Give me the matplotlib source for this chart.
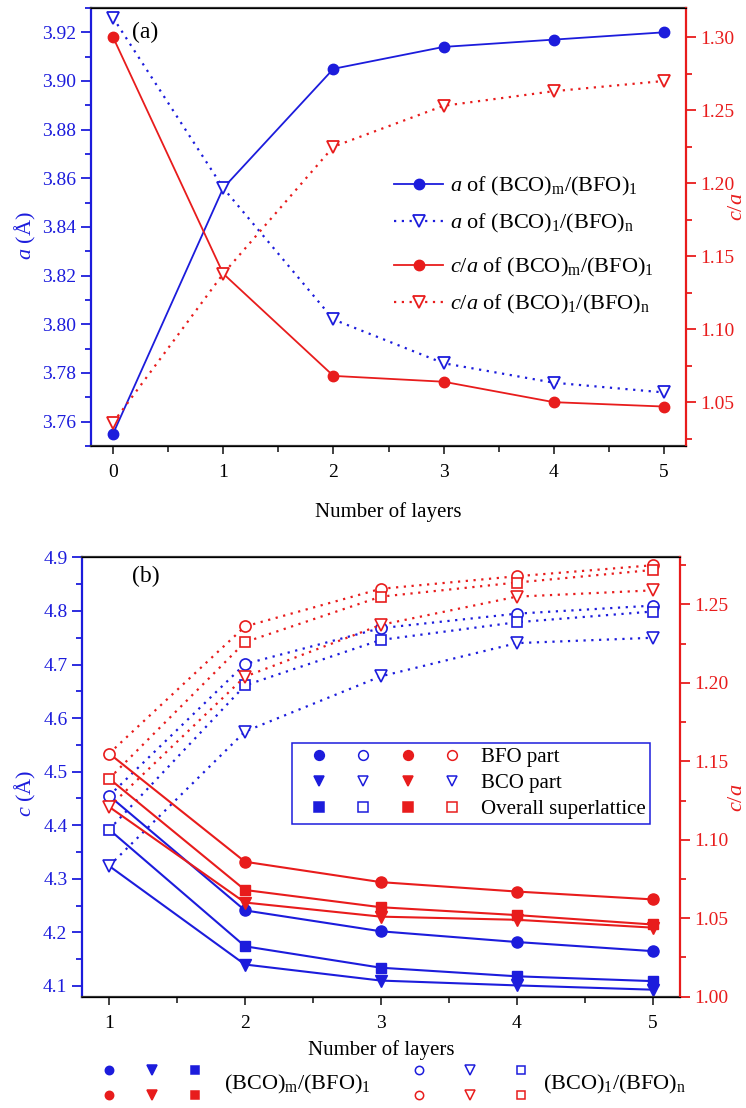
import numpy as np
import matplotlib
matplotlib.use("Agg")
import matplotlib.pyplot as plt
from matplotlib.lines import Line2D
from matplotlib.legend_handler import HandlerTuple
from matplotlib.ticker import MultipleLocator, FormatStrFormatter

plt.rcParams['font.family'] = ['Liberation Serif', 'DejaVu Serif']
plt.rcParams['mathtext.fontset'] = 'custom'
plt.rcParams['mathtext.rm'] = 'Liberation Serif'
plt.rcParams['mathtext.it'] = 'Liberation Serif:italic'
plt.rcParams['mathtext.bf'] = 'Liberation Serif:bold'

BLUE = '#1c1cdc'
RED = '#e81c1c'
DOTS = (0, (1, 2.5))

# ---- panel (a) data ----
layers_a = [0, 1, 2, 3, 4, 5]
a_m = [3.755, 3.856, 3.905, 3.914, 3.917, 3.920]
a_n = [3.926, 3.856, 3.802, 3.784, 3.776, 3.772]
ca_m = [1.300, 1.138, 1.068, 1.064, 1.050, 1.047]
ca_n = [1.036, 1.138, 1.225, 1.253, 1.263, 1.270]

# ---- panel (b) data ----
layers_b = [1, 2, 3, 4, 5]
c_bfo_m = [4.455, 4.241, 4.202, 4.182, 4.165]
c_bco_m = [4.324, 4.140, 4.110, 4.101, 4.093]
c_all_m = [4.392, 4.174, 4.134, 4.118, 4.109]
c_bfo_n = [4.455, 4.701, 4.768, 4.795, 4.810]
c_bco_n = [4.324, 4.575, 4.678, 4.740, 4.750]
c_all_n = [4.392, 4.661, 4.746, 4.779, 4.799]
ca_bfo_m = [1.155, 1.086, 1.073, 1.067, 1.062]
ca_bco_m = [1.121, 1.060, 1.051, 1.049, 1.044]
ca_all_m = [1.139, 1.068, 1.057, 1.052, 1.046]
ca_bfo_n = [1.155, 1.236, 1.260, 1.268, 1.275]
ca_bco_n = [1.121, 1.204, 1.237, 1.255, 1.259]
ca_all_n = [1.139, 1.226, 1.255, 1.264, 1.272]

lab_m = r'(BCO)$_\mathrm{m}$/(BFO)$_\mathrm{1}$'
lab_n = r'(BCO)$_\mathrm{1}$/(BFO)$_\mathrm{n}$'

W, H = 746, 1108


def px(x, y):
    # pixel position (from top-left) -> figure fraction
    return x / W, 1 - y / H


def style_axes(ax, ax2):
    ax.spines['left'].set_color(BLUE)
    ax.spines['left'].set_linewidth(1.6)
    ax.spines['right'].set_visible(False)
    ax2.spines['right'].set_color(RED)
    ax2.spines['right'].set_linewidth(1.6)
    ax2.spines['left'].set_visible(False)
    for s in ['top', 'bottom']:
        ax.spines[s].set_color('#333333')
        ax.spines[s].set_linewidth(1.6)
    ax.tick_params(axis='y', which='both', colors=BLUE, labelsize=14, direction='out')
    ax.tick_params(axis='y', which='major', length=7, width=1.3)
    ax.tick_params(axis='y', which='minor', length=4, width=1.3)
    ax2.tick_params(axis='y', which='both', colors=RED, labelsize=14, direction='out')
    ax2.tick_params(axis='y', which='major', length=7, width=1.3)
    ax2.tick_params(axis='y', which='minor', length=4, width=1.3)
    ax.tick_params(axis='x', which='both', colors='#333333', labelcolor='black',
                   labelsize=14, direction='out', top=False)
    ax.tick_params(axis='x', which='major', length=6, width=1.3, pad=7)
    ax.tick_params(axis='x', which='minor', length=4, width=1.3)
    ax.xaxis.set_minor_locator(MultipleLocator(0.5))


fig = plt.figure(figsize=(7.46, 11.08), dpi=100)

# ================= panel (a) =================
ax = fig.add_axes([0.122, 0.5975, 0.7976, 0.3953])
ax2 = ax.twinx()
ax2.set_position([0.122, 0.5975, 0.7976, 0.3953])

l1, = ax.plot(layers_a, a_m, '-', color=BLUE, lw=1.3, marker='o', ms=7.5,
              markevery=[0, 2, 3, 4, 5])
l2, = ax.plot(layers_a, a_n, linestyle=DOTS, color=BLUE, lw=1.6, marker='v', ms=9,
              mfc='white', mec=BLUE, mew=1.3)
l3, = ax2.plot(layers_a, ca_m, '-', color=RED, lw=1.3, marker='o', ms=7.5,
               markevery=[0, 2, 3, 4, 5])
l4, = ax2.plot(layers_a, ca_n, linestyle=DOTS, color=RED, lw=1.6, marker='v', ms=9,
               mfc='white', mec=RED, mew=1.3)

ax.set_xlim(-0.2, 5.2)
ax.set_ylim(3.75, 3.93)
ax2.set_ylim(1.02, 1.32)
ax.set_xticks(layers_a)
ax.yaxis.set_major_locator(MultipleLocator(0.02))
ax.yaxis.set_minor_locator(MultipleLocator(0.01))
ax.yaxis.set_major_formatter(FormatStrFormatter('%.2f'))
ax2.yaxis.set_major_locator(MultipleLocator(0.05))
ax2.yaxis.set_minor_locator(MultipleLocator(0.025))
ax2.yaxis.set_major_formatter(FormatStrFormatter('%.2f'))
style_axes(ax, ax2)

ax.set_xlabel('Number of layers', fontsize=15, labelpad=15)
fig.text(*px(25, 236), r'$a$ (Å)', fontsize=16, color=BLUE, rotation=90,
         ha='center', va='center')
fig.text(*px(737, 207), r'$c/a$', fontsize=16, color=RED, rotation=90,
         ha='center', va='center')
ax.text(0.069, 0.943, '(a)', transform=ax.transAxes, fontsize=17,
        ha='left', va='center')

leg_kw = dict(loc='center left', frameon=False, fontsize=16, handlelength=2.2,
              handletextpad=0.3, labelspacing=0.62, borderaxespad=0, borderpad=0)
leg_a1 = ax2.legend([l1, l2], [r'$a$ of ' + lab_m, r'$a$ of ' + lab_n],
                    bbox_to_anchor=(0.51, (446 - 205) / 438), **leg_kw)
ax2.add_artist(leg_a1)
leg_a2 = ax2.legend([l3, l4], [r'$c/a$ of ' + lab_m, r'$c/a$ of ' + lab_n],
                    bbox_to_anchor=(0.51, (446 - 286) / 438), **leg_kw)

# ================= panel (b) =================
bx = fig.add_axes([0.1099, 0.1005, 0.8012, 0.3964])
bx2 = bx.twinx()
bx2.set_position([0.1099, 0.1005, 0.8012, 0.3964])

mk = {'bfo': 'o', 'bco': 'v', 'all': 's'}
msz = {'bfo': 8, 'bco': 9, 'all': 7}
series_c = [('bfo', c_bfo_m, c_bfo_n), ('bco', c_bco_m, c_bco_n),
            ('all', c_all_m, c_all_n)]
series_ca = [('bfo', ca_bfo_m, ca_bfo_n), ('bco', ca_bco_m, ca_bco_n),
             ('all', ca_all_m, ca_all_n)]

for key, ym, yn in series_c:
    bx.plot(layers_b, ym, '-', color=BLUE, lw=1.5, marker=mk[key], ms=msz[key],
            markevery=slice(1, None))
    bx.plot(layers_b, yn, linestyle=DOTS, color=BLUE, lw=1.6, marker=mk[key],
            ms=msz[key], mfc='white', mec=BLUE, mew=1.2)
for key, ym, yn in series_ca:
    bx2.plot(layers_b, ym, '-', color=RED, lw=1.5, marker=mk[key], ms=msz[key],
             markevery=slice(1, None))
    bx2.plot(layers_b, yn, linestyle=DOTS, color=RED, lw=1.6, marker=mk[key],
             ms=msz[key], mfc='white', mec=RED, mew=1.2)

bx.set_xlim(0.8, 5.2)
bx.set_ylim(4.08, 4.9)
bx2.set_ylim(1.00, 1.28)
bx.set_xticks(layers_b)
bx.yaxis.set_major_locator(MultipleLocator(0.1))
bx.yaxis.set_minor_locator(MultipleLocator(0.05))
bx.yaxis.set_major_formatter(FormatStrFormatter('%.1f'))
bx2.yaxis.set_major_locator(MultipleLocator(0.05))
bx2.yaxis.set_minor_locator(MultipleLocator(0.025))
bx2.yaxis.set_major_formatter(FormatStrFormatter('%.2f'))
style_axes(bx, bx2)

bx.set_xlabel('Number of layers', fontsize=15, labelpad=6)
fig.text(*px(25, 793), r'$c$ (Å)', fontsize=16, color=BLUE, rotation=90,
         ha='center', va='center')
fig.text(*px(737, 798), r'$c/a$', fontsize=16, color=RED, rotation=90,
         ha='center', va='center')
bx.text(0.084, 0.956, '(b)', transform=bx.transAxes, fontsize=17,
        ha='left', va='center')


def key(marker, color, filled, size=6):
    return Line2D([], [], linestyle='none', marker=marker, ms=size,
                  mfc=color if filled else 'white', mec=color, mew=1.1)


rows_b = []
for key_name, open_color in [('bfo', RED), ('bco', BLUE), ('all', RED)]:
    m = mk[key_name]
    rows_b.append((key(m, BLUE, True, 7), key(m, BLUE, False, 7),
                   key(m, RED, True, 7), key(m, open_color, False, 7)))
leg_b = bx2.legend(rows_b, ['BFO part', 'BCO part', 'Overall superlattice'],
                   handler_map={tuple: HandlerTuple(ndivide=None, pad=0)},
                   loc='upper left', bbox_to_anchor=(0.351, 0.578),
                   numpoints=1, fontsize=15, handlelength=8.55,
                   handletextpad=0.3, labelspacing=0.32, borderpad=0.22,
                   borderaxespad=0, fancybox=False, framealpha=1,
                   edgecolor=BLUE)
leg_b.get_frame().set_linewidth(1.1)

# ================= bottom key =================
groups = [(True, 0.1166, 9.3), (False, 0.5275, 11.0)]
for filled, x0, hl in groups:
    for color, yy in [(BLUE, 0.0328), (RED, 0.0102)]:
        h = (key('o', color, filled), key('v', color, filled, 7),
             key('s', color, filled))
        fig.legend([h], [''], handler_map={tuple: HandlerTuple(ndivide=None, pad=0)},
                   loc='center left', bbox_to_anchor=(x0, yy), numpoints=1,
                   frameon=False, fontsize=10, handlelength=hl,
                   borderpad=0, borderaxespad=0, handletextpad=0)
fig.text(0.300, 0.0208, lab_m, fontsize=16, ha='left', va='center')
fig.text(0.728, 0.0208, lab_n, fontsize=16, ha='left', va='center')

fig.savefig('out.png', dpi=100)
